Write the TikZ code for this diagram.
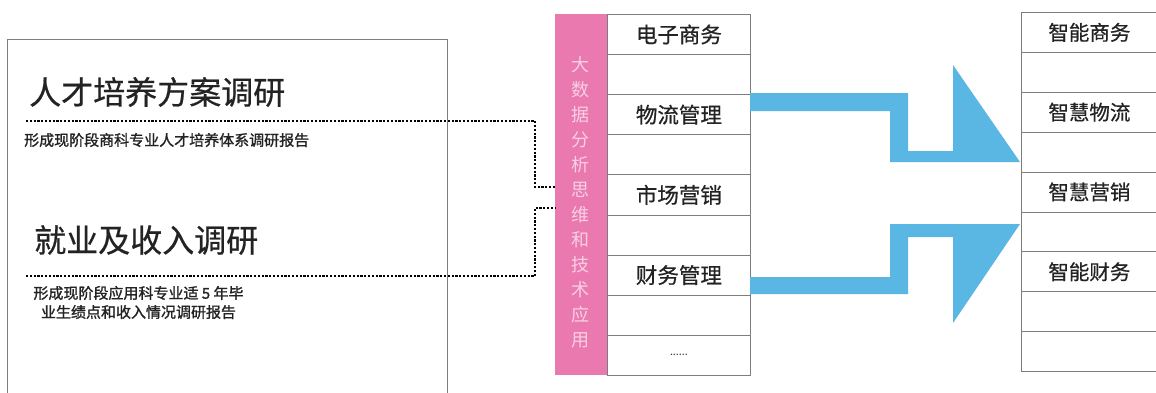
\documentclass[tikz,border=0pt]{standalone}
\usepackage{fontspec}
\newfontfamily\cjk[FakeBold=0.6]{Noto Sans CJK SC}
\newfontfamily\cjkb[FakeBold=1.4]{Noto Sans CJK SC}
\newfontfamily\cjkplain{Noto Sans CJK SC}
\definecolor{pinkbar}{RGB}{234,121,175}
\definecolor{pinktext}{RGB}{247,208,228}
\definecolor{arrowblue}{RGB}{90,183,228}
\definecolor{ink}{RGB}{35,35,35}
\definecolor{frame}{RGB}{125,125,125}
\begin{document}
\begin{tikzpicture}[x=1pt,y=-1pt,
  cell/.style={draw=frame, line width=0.8pt, minimum width=143pt, minimum height=40.1pt,
    inner sep=0pt, font=\cjk\fontsize{21.5}{21.5}\selectfont, text=ink, anchor=north west},
  rcell/.style={cell, minimum width=136pt, minimum height=39.9pt, font=\cjk\fontsize{20.5}{20.5}\selectfont},
  title/.style={inner sep=0pt, anchor=west, font=\cjk\fontsize{32}{32}\selectfont, text=ink},
  subtext/.style={inner sep=0pt, font=\cjkb\fontsize{15}{19}\selectfont, text=ink},
  dotline/.style={draw=black, line width=2.8pt, dash pattern=on 2.2pt off 1.6pt},
  arrowshape/.style={fill=arrowblue}]
\useasboundingbox (0,0) rectangle (1156,392);
\fill[white] (0,0) rectangle (1156,392);

% left frame
\node[draw=frame, line width=0.9pt, minimum width=440pt, minimum height=380pt,
  anchor=north west, inner sep=0pt] (leftbox) at (7,39) {};

\node[title] (t1) at (29,92) {人才培养方案调研};
\node[subtext, anchor=west] (s1) at (24,140) {形成现阶段商科专业人才培养体系调研报告};
\node[title] (t2) at (34,240) {就业及收入调研};
\node[subtext, align=center] (s2) at (138.5,302.5) {形成现阶段应用科专业适 5 年毕\\业生绩点和收入情况调研报告};

% pink bar
\node[fill=pinkbar, minimum width=52pt, minimum height=361pt, inner sep=0pt,
  anchor=north west] (bar) at (555,14) {};
\node[inner sep=0pt, align=center, text=pinktext, font=\cjkplain\fontsize{18}{25}\selectfont]
  (bartext) at (580,202) {大\\数\\据\\分\\析\\思\\维\\和\\技\\术\\应\\用};

% middle column
\node[cell] (m1) at (607,14.0) {电子商务};
\node[cell] (m2) at (607,54.1) {};
\node[cell] (m3) at (607,94.2) {物流管理};
\node[cell] (m4) at (607,134.3) {};
\node[cell] (m5) at (607,174.4) {市场营销};
\node[cell] (m6) at (607,214.5) {};
\node[cell] (m7) at (607,254.6) {财务管理};
\node[cell] (m8) at (607,294.7) {};
\node[cell, font=\fontsize{9}{9}\selectfont\bfseries] (m9) at (607,334.8) {......};

% right column
\node[rcell] (r1) at (1021,12.0) {智能商务};
\node[rcell] (r2) at (1021,51.9) {};
\node[rcell] (r3) at (1021,91.8) {智慧物流};
\node[rcell] (r4) at (1021,131.7) {};
\node[rcell] (r5) at (1021,171.6) {智慧营销};
\node[rcell] (r6) at (1021,211.5) {};
\node[rcell] (r7) at (1021,251.4) {智能财务};
\node[rcell] (r8) at (1021,291.3) {};
\node[rcell] (r9) at (1021,331.2) {};

% dotted connectors
\coordinate (d1s) at (26,121);
\coordinate (j1) at (535,187);
\draw[dotline] (d1s) -| (j1) -- (j1 -| bar.west);
\coordinate (d2s) at (26,276);
\coordinate (j2) at (535,208);
\draw[dotline] (d2s) -| (j2) -- (j2 -| bar.west);

% blue arrows
\fill[arrowshape] (750,93) -- (908,93) -- (908,151) -- (953,151) -- (953,65)
  -- (1020,162) -- (890,162) -- (890,111) -- (750,111) -- cycle;
\fill[arrowshape] (750,294) -- (908,294) -- (908,237) -- (953,237) -- (953,323)
  -- (1020,224) -- (890,224) -- (890,277) -- (750,277) -- cycle;
\end{tikzpicture}
\end{document}
